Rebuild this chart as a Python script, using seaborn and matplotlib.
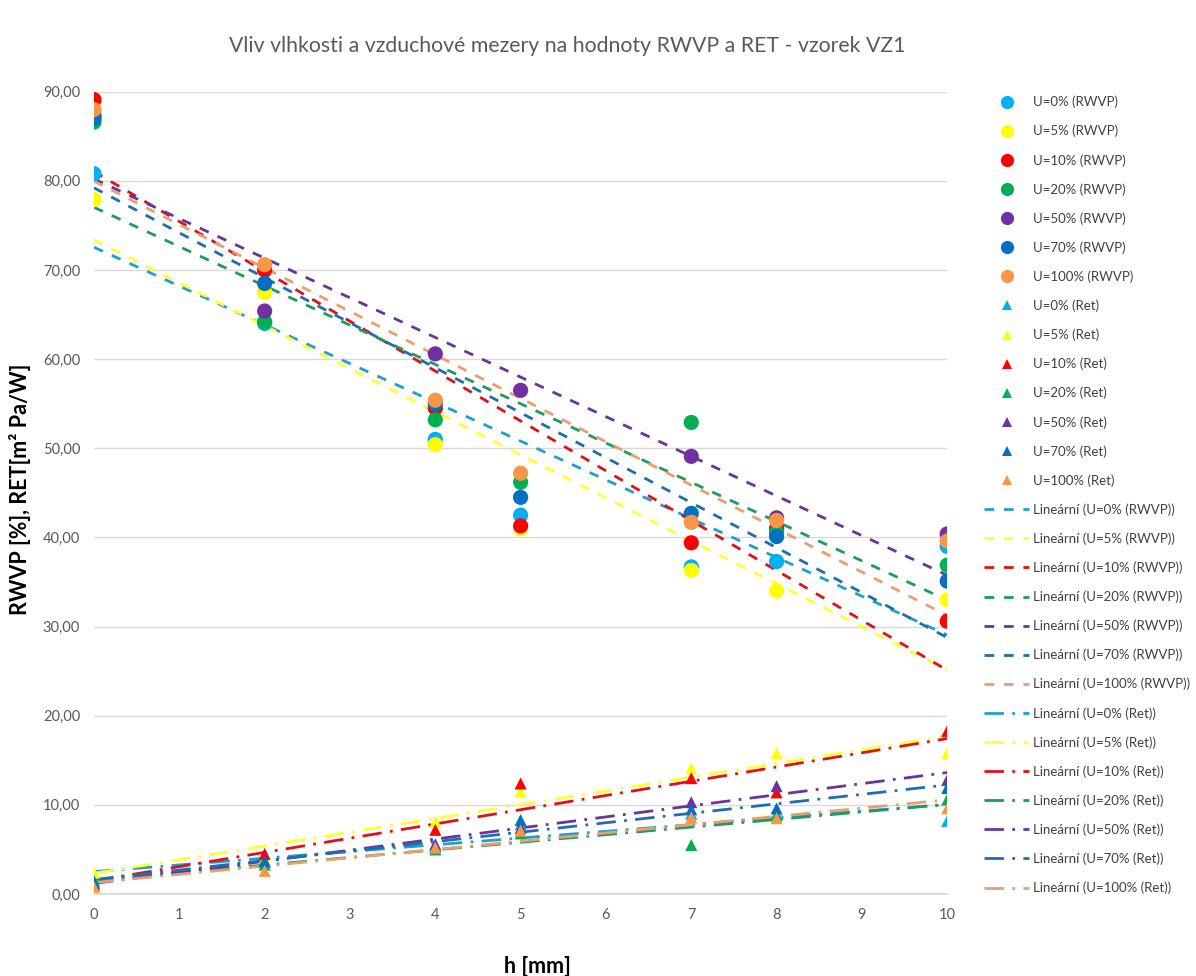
import numpy as np
import pandas as pd
import seaborn as sns
import matplotlib.pyplot as plt
from matplotlib.lines import Line2D
from matplotlib.ticker import FuncFormatter, MultipleLocator

h = [0, 2, 4, 5, 7, 8, 10]
groups = ["U=0%", "U=5%", "U=10%", "U=20%", "U=50%", "U=70%", "U=100%"]
colors = ["#00B0F0", "#FFFF00", "#FF0000", "#00B050", "#7030A0", "#0070C0", "#F79646"]
line_colors = ["#1E9FD0", "#FFFF33", "#E0101A", "#1F9A60", "#6A3596", "#1F6DB0", "#E8A070"]

# RWVP [%]
rwvp_0 = [80.8, 64.0, 51.0, 42.5, 36.7, 37.3, 39.0]
rwvp_5 = [77.9, 67.5, 50.4, 41.0, 36.3, 34.0, 33.0]
rwvp_10 = [89.1, 70.0, 54.5, 41.3, 39.4, 41.0, 30.6]
rwvp_20 = [86.6, 64.2, 53.2, 46.2, 52.9, 40.6, 36.9]
rwvp_50 = [87.3, 65.4, 60.6, 56.5, 49.1, 42.2, 40.4]
rwvp_70 = [87.0, 68.5, 55.0, 44.5, 42.7, 40.1, 35.1]
rwvp_100 = [88.0, 70.6, 55.4, 47.2, 41.7, 41.9, 39.6]

# RET [m2 Pa/W]
ret_0 = [1.7, 3.6, 5.4, 7.8, 9.0, 9.0, 8.2]
ret_5 = [2.4, 4.0, 8.1, 11.5, 14.1, 15.8, 15.8]
ret_10 = [1.0, 4.5, 7.2, 12.4, 13.0, 11.4, 18.3]
ret_20 = [1.5, 3.3, 5.0, 6.8, 5.5, 8.8, 10.6]
ret_50 = [1.2, 3.7, 5.6, 7.4, 10.3, 12.1, 12.8]
ret_70 = [1.3, 3.7, 5.3, 8.3, 9.5, 9.6, 11.9]
ret_100 = [0.8, 2.6, 5.2, 7.1, 8.6, 8.5, 9.6]

rwvp = [rwvp_0, rwvp_5, rwvp_10, rwvp_20, rwvp_50, rwvp_70, rwvp_100]
ret = [ret_0, ret_5, ret_10, ret_20, ret_50, ret_70, ret_100]

rows = []
for kind, data in (("RWVP", rwvp), ("Ret", ret)):
    for g, vals in zip(groups, data):
        for x, v in zip(h, vals):
            rows.append({"h": x, "val": v, "series": f"{g} ({kind})", "kind": kind, "group": g})
df = pd.DataFrame(rows)

sns.set_theme(style="white")
plt.rcParams["font.family"] = ["Lato", "DejaVu Sans"]

fig = plt.figure(figsize=(11.96, 9.76), dpi=100)
ax = fig.add_axes([0.0786, 0.084, 0.7134, 0.822])

pal = {f"{g} ({k})": c for k in ("RWVP", "Ret") for g, c in zip(groups, colors)}
for kind, mk, s in (("RWVP", "o", 120), ("Ret", "^", 75)):
    sub = df[df["kind"] == kind]
    sns.scatterplot(data=sub, x="h", y="val", hue="series", palette=pal, marker=mk,
                    s=s, linewidth=0, legend=False, ax=ax, zorder=3)

for kind, dash in (("RWVP", (3.5, 3.5)), ("Ret", (7, 3, 1, 3))):
    for g, lc in zip(groups, line_colors):
        sub = df[(df["kind"] == kind) & (df["group"] == g)]
        sns.regplot(data=sub, x="h", y="val", scatter=False, ci=None, color=lc,
                    line_kws={"lw": 2, "dashes": dash}, ax=ax, truncate=True)

ax.set_xlim(0, 10)
ax.set_ylim(0, 90)
ax.xaxis.set_major_locator(MultipleLocator(1))
ax.yaxis.set_major_locator(MultipleLocator(10))
ax.yaxis.set_major_formatter(FuncFormatter(lambda v, p: f"{v:.2f}".replace(".", ",")))
ax.grid(axis="y", color="#D9D9D9", lw=1)
ax.set_axisbelow(True)
for sp in ("left", "right", "top"):
    ax.spines[sp].set_visible(False)
ax.spines["bottom"].set_color("#D9D9D9")
ax.tick_params(axis="both", length=0, labelsize=10.5, colors="#595959", pad=10)
ax.set_xlabel("")
ax.set_ylabel("")

fig.text(0.474, 0.953, "Vliv vlhkosti a vzduchové mezery na hodnoty RWVP a RET - vzorek VZ1",
         ha="center", va="center", fontsize=15.3, color="#595959")
fig.text(0.0167, 0.499, "RWVP [%], RET[m² Pa/W]", rotation=90, ha="center", va="center",
         fontsize=15.5, fontweight="bold", color="black")
fig.text(0.449, 0.01, "h [mm]", ha="center", va="center", fontsize=15.5,
         fontweight="bold", color="black")

handles = []
labels = []
for kind, mk, ms in (("RWVP", "o", 9.5), ("Ret", "^", 7.5)):
    for g, c in zip(groups, colors):
        handles.append(Line2D([], [], ls="none", marker=mk, ms=ms, color=c, mew=0))
        labels.append(f"{g} ({kind})")
for kind, dash in (("RWVP", (3.5, 3.5)), ("Ret", (7, 3, 1, 3))):
    for g, lc in zip(groups, line_colors):
        handles.append(Line2D([], [], color=lc, lw=2, dashes=dash))
        labels.append(f"Lineární ({g} ({kind}))")

fig.legend(handles, labels, loc="upper left", bbox_to_anchor=(0.813, 0.914),
           frameon=False, fontsize=9.5, labelspacing=1.255, handlelength=3.4,
           handletextpad=0.3, labelcolor="#404040")

plt.savefig("out.png", dpi=100)
